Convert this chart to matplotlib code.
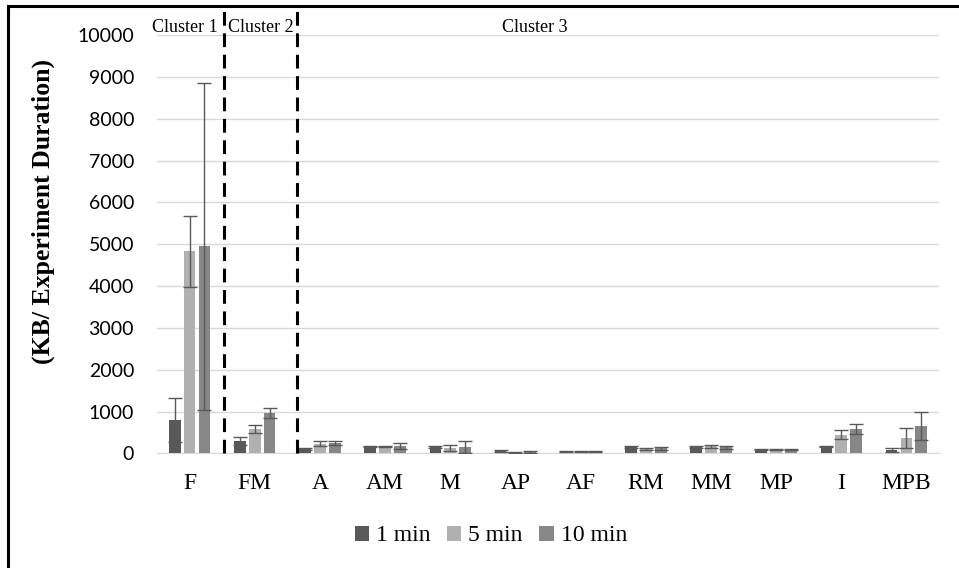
import matplotlib
matplotlib.use("Agg")
import matplotlib.pyplot as plt
import numpy as np
from matplotlib.patches import Rectangle

# traffic per experiment duration, grouped by app category
categories = ["F", "FM", "A", "AM", "M", "AP", "AF", "RM", "MM", "MP", "I", "MPB"]
series_names = ["1 min", "5 min", "10 min"]
one_min = [795, 295, 110, 170, 150, 60, 50, 150, 150, 90, 170, 80]
five_min = [4830, 590, 230, 170, 130, 20, 50, 110, 170, 90, 450, 375]
ten_min = [4950, 970, 250, 170, 160, 40, 50, 120, 150, 90, 595, 650]
one_min_err = [520, 100, 15, 15, 30, 30, 10, 20, 20, 10, 15, 40]
five_min_err = [850, 100, 60, 20, 70, 10, 10, 20, 40, 10, 100, 240]
ten_min_err = [3900, 120, 40, 70, 140, 20, 10, 40, 40, 10, 120, 330]

cluster_names = ["Cluster 1", "Cluster 2", "Cluster 3"]
cluster_label_x = [-0.07, 1.1, 5.3]
cluster_bounds = [0.53, 1.65]

colors = ["#595959", "#b0b0b0", "#878787"]
serif = "Liberation Serif"

fig = plt.figure(figsize=(9.59, 5.68), dpi=100)
ax = fig.add_axes([0.1637, 0.2016, 0.8155, 0.7368])

x = np.arange(len(categories))
width = 0.18
offset = 0.228
values = [one_min, five_min, ten_min]
errors = [one_min_err, five_min_err, ten_min_err]
handles = []
for i, (vals, errs) in enumerate(zip(values, errors)):
    bars = ax.bar(x + (i - 1) * offset, vals, width, color=colors[i],
                  label=series_names[i], zorder=3)
    ax.errorbar(x + (i - 1) * offset, vals, yerr=errs, fmt="none",
                ecolor="#595959", elinewidth=1, capsize=5, capthick=1, zorder=4)
    handles.append(bars)

ax.set_xlim(-0.5, len(categories) - 0.5)
ax.set_ylim(0, 10000)
ax.set_yticks(np.arange(0, 10001, 1000))
ax.yaxis.grid(True, color="#d9d9d9", linewidth=1, zorder=0)
ax.set_axisbelow(True)
for side in ["top", "right", "left"]:
    ax.spines[side].set_visible(False)
ax.spines["bottom"].set_color("#d9d9d9")
ax.tick_params(axis="both", length=0)
ax.tick_params(axis="y", pad=16.5, labelsize=14)
ax.tick_params(axis="x", pad=14)
for lab in ax.get_yticklabels():
    lab.set_fontfamily("Lato")
ax.set_xticks(x)
ax.set_xticklabels(categories, fontfamily=serif, fontsize=17)

ax.set_ylabel("(KB/ Experiment Duration)", fontfamily=serif, fontsize=18.5,
              fontweight="bold")
ax.yaxis.set_label_coords(-0.131, 0.578)

# dashed separators between clusters
for bx in cluster_bounds:
    ax.plot([bx, bx], [0, 10650], color="black", linestyle=(0, (4.5, 2.5)),
            linewidth=2.2, clip_on=False, zorder=5)
for name, cx in zip(cluster_names, cluster_label_x):
    ax.text(cx, 10170, name, fontfamily=serif, fontsize=13, ha="center",
            va="center")

ax.legend(handles=handles, loc="center", bbox_to_anchor=(0.427, -0.197),
          ncol=3, frameon=False, prop={"family": serif, "size": 17},
          handlelength=0.6, handleheight=0.6, handletextpad=0.3,
          columnspacing=0.7)

# outer frame
fig.patches.append(Rectangle((7.5 / 959, -0.1), 1.2, 1.1 - 6.5 / 568,
                             transform=fig.transFigure, fill=False,
                             edgecolor="black", linewidth=2.2))

fig.savefig("out.png", dpi=100)
